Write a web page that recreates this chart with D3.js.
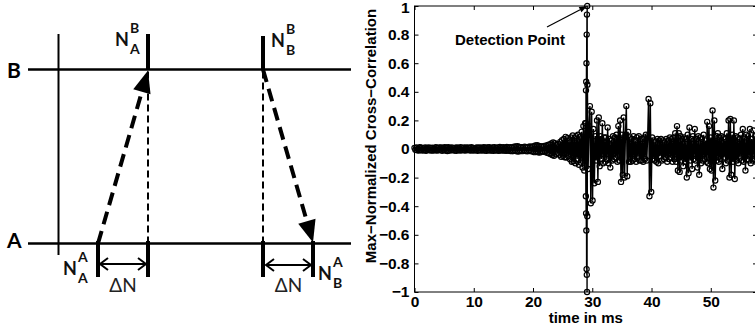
<!DOCTYPE html>
<html>
<head>
<meta charset="utf-8">
<script src="https://cdn.jsdelivr.net/npm/d3@7"></script>
<style>
  body { margin: 0; background: #fff; }
  svg { display: block; }
</style>
</head>
<body>
<svg id="chart" width="755" height="325"></svg>
<script>
// ---- data ----
const stepMs = 0.15;
// max-normalized cross-correlation from 0 ms to 28.8 ms
const corrBefore = [
  .008,-.006,.011,-.009,.004,-.010,.012,-.007,.009,-.011,.006,-.008,.010,-.012,.007,-.005,.011,-.009,.008,-.010,
  .009,-.011,.006,-.008,.012,-.010,.007,-.009,.011,-.006,.010,-.012,.008,-.007,.013,-.011,.009,-.014,.012,-.010,
  .007,-.009,.011,-.008,.006,-.010,.009,-.012,.010,-.007,.008,-.011,.012,-.009,.006,-.008,.010,-.010,.009,-.007,
  .011,-.008,.007,-.010,.012,-.009,.008,-.011,.006,-.007,.010,-.012,.009,-.008,.011,-.010,.007,-.009,.012,-.011,
  .009,-.012,.011,-.008,.013,-.010,.008,-.011,.010,-.013,.012,-.009,.007,-.010,.011,-.012,.014,-.009,.010,-.011,
  .012,-.010,.009,-.013,.014,-.011,.010,-.012,.013,-.015,.011,-.014,.016,-.012,.018,-.016,.020,-.017,.014,-.013,
  .012,-.015,.013,-.011,.016,-.014,.012,-.016,.015,-.013,.017,-.015,.014,-.018,.020,-.022,.024,-.020,.026,-.023,
  .022,-.025,.020,-.018,.016,-.019,.021,-.017,.023,-.026,.028,-.030,.032,-.035,.038,-.042,.045,-.048,.040,-.036,
  .030,-.028,.035,-.040,.050,-.055,.062,-.048,.070,-.058,.085,-.060,.075,-.050,.060,-.072,.080,-.090,.095,-.085,
  .078,-.100,.090,-.070,.100,-.110,.085,-.095,.120,-.130,.160,-.150,.180
];
// the detection spike, sampled finer
const spikeStartMs = 28.9;
const spikeStepMs = 0.02;
const corrSpike = [.18,-.33,.41,-.45,.47,-.57,.60,-.84,.80,-.88,.94,-1.0,1.0,-.47,.45];
// after the spike, from 29.3 ms
const afterStartMs = 29.3;
const corrAfter = [
  -.14,.16,.30,-.38,.26,-.36,.14,-.24,.09,-.08,.20,-.23,.22,-.12,.09,-.07,.18,-.10,.08,-.09,
  .08,-.07,.15,-.10,.07,-.13,.06,-.08,.09,-.07,.08,-.06,.10,-.09,.16,-.08,.20,-.23,.10,-.18,
  .22,-.20,.10,.30,-.19,.12,-.09,.08,-.09,.07,-.08,.09,-.07,.06,-.09,.08,-.06,.09,-.08,.07,
  -.08,.07,-.09,.08,-.07,.10,-.08,.09,.35,-.33,.32,-.30,.08,-.07,.06,-.08,.05,-.09,.07,-.10,
  .06,-.05,.07,-.08,.06,-.07,.05,-.06,.07,-.09,.06,-.07,.08,-.06,.07,-.09,.08,-.07,.11,-.09,
  .16,-.15,.11,-.16,.09,-.08,.07,-.12,.08,-.09,.07,-.20,.10,-.17,.15,-.08,.07,-.14,.09,-.07,
  .14,-.08,.07,-.13,.09,-.18,.08,-.10,.07,-.08,.10,-.07,.06,-.09,.19,-.10,.16,-.14,.08,-.15,
  .27,-.27,.20,-.22,.09,-.08,.11,-.09,.08,-.07,.09,-.14,.08,-.06,.07,-.10,.11,-.08,.20,-.20,
  .21,-.18,.10,-.09,.20,-.21,.09,-.08,.08,-.10,.07,-.06,.10,-.08,.14,-.09,.08,-.15,.10,-.07,
  .09,-.08,.14,-.10,.07,-.08,.13,-.07,.09,-.09
];
const xTicks = [0, 10, 20, 30, 40, 50];
const yTicks = [-1, -0.8, -0.6, -0.4, -0.2, 0, 0.2, 0.4, 0.6, 0.8, 1];
const xDomain = [0, 57.8];

const svg = d3.select("#chart");
const plotFont = "'Liberation Sans', Arial, Helvetica, sans-serif";
const diaFont = "Lato, 'Open Sans', sans-serif";

// ================= left: timing diagram =================
const dia = svg.append("g");
const levelB = 69.5, levelA = 243.5;
const lineX0 = 28, lineX1 = 351;
const axisX = 58.5;
const nAA = 98, nAB = 148, nBB = 263, nBA = 313;

// node lines B and A
[levelB, levelA].forEach(ly => {
  dia.append("line").attr("x1", lineX0).attr("x2", lineX1)
    .attr("y1", ly).attr("y2", ly)
    .attr("stroke", "#000").attr("stroke-width", 2.5);
});
dia.append("line").attr("x1", axisX).attr("x2", axisX).attr("y1", 34).attr("y2", 255)
  .attr("stroke", "#000").attr("stroke-width", 2);

// thick sample markers
[[nAB, 34, levelB], [nBB, 36, levelB]].concat(
  [nAA, nAB, nBB, nBA].map(v => [v, 241, 277])
).forEach(([tx, ty0, ty1]) => {
  dia.append("line").attr("x1", tx).attr("x2", tx).attr("y1", ty0).attr("y2", ty1)
    .attr("stroke", "#000").attr("stroke-width", 4);
});

// thin dashed projections
[nAB, nBB].forEach(tx => {
  dia.append("line").attr("x1", tx).attr("x2", tx).attr("y1", levelB + 2).attr("y2", levelA)
    .attr("stroke", "#000").attr("stroke-width", 2).attr("stroke-dasharray", "7,4");
});

// thick dashed arrows with filled heads
function dashedArrow(x0, y0, x1, y1) {
  const dx = x1 - x0, dy = y1 - y0, len = Math.hypot(dx, dy);
  const ux = dx / len, uy = dy / len, head = 22, hw = 9;
  const bx = x1 - ux * head, by = y1 - uy * head;
  dia.append("line").attr("x1", x0).attr("y1", y0).attr("x2", bx).attr("y2", by)
    .attr("stroke", "#000").attr("stroke-width", 4).attr("stroke-dasharray", "13,7");
  dia.append("path")
    .attr("d", `M${x1},${y1}L${bx - uy * hw},${by + ux * hw}L${bx + uy * hw},${by - ux * hw}Z`)
    .attr("fill", "#000");
}
dashedArrow(nAA, levelA, nAB, levelB + 1);
dashedArrow(nBB, levelB, nBA, levelA - 1);

// double-headed delta arrows
function deltaArrow(xa, xb, yy) {
  const g = dia.append("g").attr("fill", "none").attr("stroke", "#000").attr("stroke-width", 2);
  g.append("line").attr("x1", xa).attr("x2", xb).attr("y1", yy).attr("y2", yy);
  g.append("path").attr("d", `M${xa + 8},${yy - 6}L${xa},${yy}L${xa + 8},${yy + 6}`);
  g.append("path").attr("d", `M${xb - 8},${yy - 6}L${xb},${yy}L${xb - 8},${yy + 6}`);
  dia.append("text").attr("x", (xa + xb) / 2).attr("y", 292).attr("text-anchor", "middle")
    .attr("font-family", diaFont).attr("font-size", 19).attr("fill", "#222")
    .text("ΔN");
}
deltaArrow(nAA + 2, nAB - 2, 264);
deltaArrow(nBB + 3, nBA - 2, 265);

// level letters
dia.append("text").attr("x", 7).attr("y", 78).text("B")
  .attr("font-family", diaFont).attr("font-weight", "bold").attr("font-size", 21);
dia.append("text").attr("x", 7).attr("y", 248).text("A")
  .attr("font-family", diaFont).attr("font-weight", "bold").attr("font-size", 21);

function nLabel(x, y, sup, sub) {
  const g = dia.append("g").attr("font-family", diaFont).attr("font-weight", "bold").attr("fill", "#111");
  g.append("text").attr("x", x).attr("y", y).attr("font-size", 18).text("N");
  g.append("text").attr("x", x + 15).attr("y", y - 13).attr("font-size", 14).text(sup);
  g.append("text").attr("x", x + 15).attr("y", y + 8).attr("font-size", 14).text(sub);
}
nLabel(115, 46, "B", "A");
nLabel(271, 47, "B", "B");
nLabel(63, 275, "A", "A");
nLabel(318, 280, "A", "B");

// ================= right: cross-correlation plot =================
const x = d3.scaleLinear().domain(xDomain).range([414.5, 757]);
const y = d3.scaleLinear().domain([-1, 1]).range([292, 6]);

const points = [
  ...corrBefore.map((v, i) => [i * stepMs, v]),
  ...corrSpike.map((v, i) => [spikeStartMs + i * spikeStepMs, v]),
  ...corrAfter.map((v, i) => [afterStartMs + i * stepMs, v])
];

svg.append("rect").attr("x", x(xDomain[0])).attr("y", y(1))
  .attr("width", x(xDomain[1]) - x(xDomain[0])).attr("height", y(-1) - y(1))
  .attr("fill", "none").attr("stroke", "#000").attr("stroke-width", 1);

function styleAxis(g) {
  g.select(".domain").remove();
  g.selectAll(".tick line").attr("stroke", "#000");
  g.selectAll("text").attr("font-family", plotFont).attr("font-weight", "bold")
    .attr("font-size", 15.5).attr("fill", "#000");
}
svg.append("g").attr("transform", `translate(0,${y(-1)})`)
  .call(d3.axisBottom(x).tickValues(xTicks).tickSize(-4).tickPadding(4).tickFormat(d3.format("d")))
  .call(styleAxis);
svg.append("g").attr("transform", `translate(0,${y(1)})`)
  .call(d3.axisTop(x).tickValues(xTicks).tickSize(-4).tickFormat(""))
  .call(styleAxis);
svg.append("g").attr("transform", `translate(${x(0)},0)`)
  .call(d3.axisLeft(y).tickValues(yTicks).tickSize(-4).tickPadding(5).tickFormat(d3.format("")))
  .call(styleAxis)
  .call(g => g.selectAll(".tick").filter(d => d === 1).select("text").attr("dy", "0.42em"));
svg.append("g").attr("transform", `translate(${x(xDomain[1])},0)`)
  .call(d3.axisRight(y).tickValues(yTicks).tickSize(-4).tickFormat(""))
  .call(styleAxis);

// series: line with open circle markers
svg.append("path").datum(points)
  .attr("d", d3.line().x(d => x(d[0])).y(d => y(d[1])))
  .attr("fill", "none").attr("stroke", "#000").attr("stroke-width", 1.4);
svg.append("g").selectAll("circle").data(points).join("circle")
  .attr("cx", d => x(d[0])).attr("cy", d => y(d[1])).attr("r", 2.6)
  .attr("fill", "none").attr("stroke", "#000").attr("stroke-width", 1.2);

// labels
svg.append("text").attr("x", (x(xDomain[0]) + x(xDomain[1])) / 2).attr("y", 323)
  .attr("text-anchor", "middle").attr("font-family", plotFont).attr("font-weight", "bold")
  .attr("font-size", 15).text("time in ms");
svg.append("text").attr("transform", "translate(376,136) rotate(-90)")
  .attr("text-anchor", "middle").attr("font-family", plotFont).attr("font-weight", "bold")
  .attr("font-size", 15).text("Max\u2212Normalized Cross\u2212Correlation");

// detection point annotation
const peak = points.reduce((a, b) => (b[1] > a[1] ? b : a));
const px = x(peak[0]), py = y(peak[1]);
svg.append("text").attr("x", 455).attr("y", 45).attr("font-family", plotFont)
  .attr("font-weight", "bold").attr("font-size", 15).text("Detection Point");
{
  const x0 = 547, y0 = 27, dx = px - x0, dy = py - y0, len = Math.hypot(dx, dy);
  const ux = dx / len, uy = dy / len, bx = px - ux * 8, by = py - uy * 8;
  svg.append("line").attr("x1", x0).attr("y1", y0).attr("x2", bx).attr("y2", by)
    .attr("stroke", "#000").attr("stroke-width", 1.2);
  svg.append("path")
    .attr("d", `M${px},${py}L${bx - uy * 3},${by + ux * 3}L${bx + uy * 3},${by - ux * 3}Z`)
    .attr("fill", "#000");
}
</script>
</body>
</html>
